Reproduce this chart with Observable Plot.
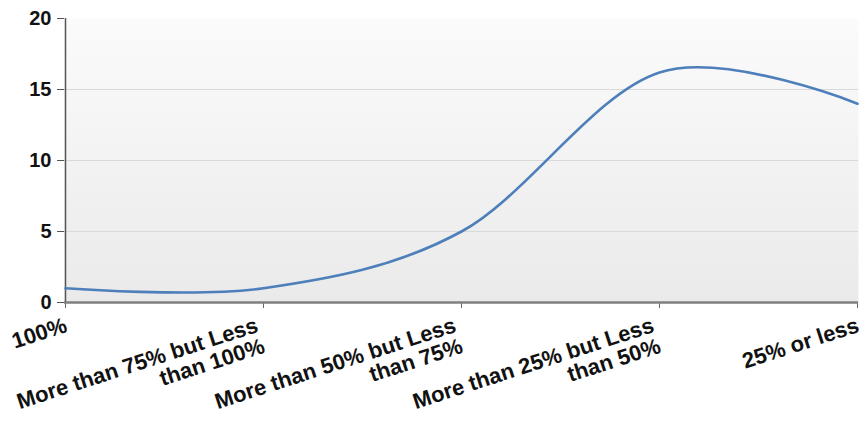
<!DOCTYPE html>
<html>
<head>
<meta charset="utf-8">
<script src="https://cdn.jsdelivr.net/npm/d3@7"></script>
<script src="https://cdn.jsdelivr.net/npm/@observablehq/plot@0.6"></script>
<style>
  html, body { margin: 0; padding: 0; background: #ffffff; }
  #chart svg { display: block; }
</style>
</head>
<body>
<div id="chart"></div>
<script>
const categories = [
  "100%",
  "More than 75% but Less than 100%",
  "More than 50% but Less than 75%",
  "More than 25% but Less than 50%",
  "25% or less"
];
const values = [1, 1, 5, 16.2, 14];
const tickLabels = [
  "100%",
  "More than 75% but Less\nthan 100%",
  "More than 50% but Less\nthan 75%",
  "More than 25% but Less\nthan 50%",
  "25% or less"
];
const yTicks = [0, 5, 10, 15, 20];

const data = categories.map((c, i) => ({category: c, value: values[i]}));
const labels = categories.map((c, i) => ({category: c, label: tickLabels[i]}));
const oneLine = labels.filter(d => !d.label.includes("\n"));
const twoLine = labels.filter(d => d.label.includes("\n"));
const font = "Arial, 'Liberation Sans', sans-serif";

const labelStyle = {
  x: "category", text: "label", frameAnchor: "bottom", rotate: -18,
  textAnchor: "end", lineAnchor: "top", fontSize: 22, fontWeight: "bold",
  lineHeight: 1, fill: "#111"
};

const chart = Plot.plot({
  width: 866,
  height: 426,
  marginLeft: 64,
  marginRight: 8,
  marginTop: 18,
  marginBottom: 124,
  style: {fontFamily: font, background: "#ffffff", overflow: "visible"},
  x: {type: "point", domain: categories, padding: 0, axis: null},
  y: {domain: [0, 20], axis: null},
  marks: [
    Plot.frame({fill: "url(#plotbg)", stroke: null}),
    Plot.gridY(yTicks.filter(d => d > 0 && d < 20), {stroke: "#d9d9d9", strokeOpacity: 1, strokeWidth: 1}),
    Plot.axisY({
      ticks: yTicks, tickSize: 7, tickPadding: 6,
      fontSize: 20, fontWeight: "bold", fill: "#111", stroke: "#555", label: null
    }),
    Plot.axisX({tickSize: 6, tickFormat: () => "", stroke: "#666", label: null}),
    Plot.text(oneLine, {...labelStyle, dx: -2, dy: 14}),
    Plot.text(twoLine, {...labelStyle, dx: -9, dy: 14}),
    Plot.ruleX([categories[0]], {stroke: "#555", strokeWidth: 1.5}),
    Plot.ruleY([0], {stroke: "#7f7f7f", strokeWidth: 2.5}),
    Plot.line(data, {x: "category", y: "value", curve: "cardinal", stroke: "#4d7fba", strokeWidth: 2.6})
  ]
});

const svg = d3.select(chart);
const defs = svg.insert("defs", ":first-child");
const grad = defs.append("linearGradient")
  .attr("id", "plotbg").attr("x1", 0).attr("y1", 0).attr("x2", 0).attr("y2", 1);
grad.append("stop").attr("offset", "0%").attr("stop-color", "#fbfbfb");
grad.append("stop").attr("offset", "100%").attr("stop-color", "#eaeaea");

document.getElementById("chart").appendChild(chart);
</script>
</body>
</html>
